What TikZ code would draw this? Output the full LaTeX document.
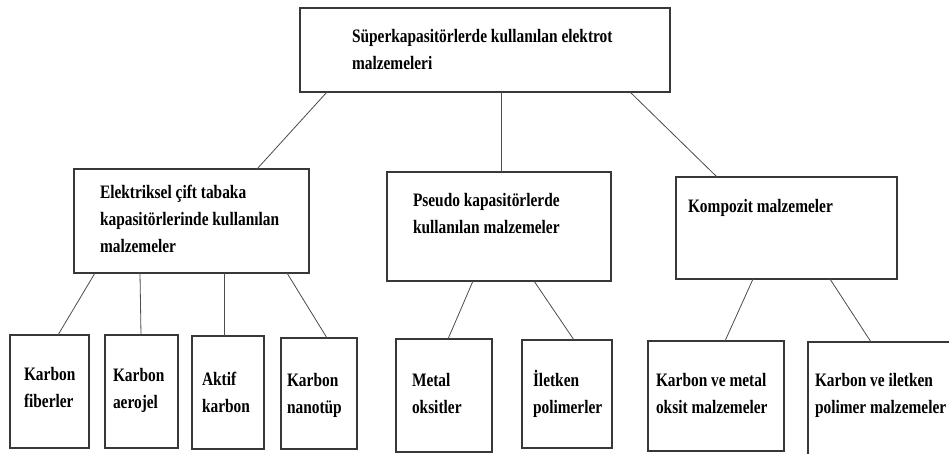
\documentclass[tikz,border=0pt]{standalone}
\usepackage{fontspec}
\setmainfont{Liberation Serif}[FakeStretch=0.81]
\begin{document}
\begin{tikzpicture}[x=1pt,y=-1pt,
  box/.style={draw=black!78, line width=1.3pt, fill=white, anchor=north west, inner sep=0pt, outer sep=0pt},
  conn/.style={draw=black!70, line width=0.8pt},
  txt/.style={anchor=base west, inner sep=0pt, outer sep=0pt, font=\fontsize{19}{27}\selectfont\bfseries}
]
\clip (0,0) rectangle (949,453);
\fill[white] (0,0) rectangle (949,453);

% boxes
\node[box, minimum width=370pt, minimum height=84pt]  (top)   at (300,8)   {};
\node[box, minimum width=235pt, minimum height=104pt] (elek)  at (74,169)  {};
\node[box, minimum width=224pt, minimum height=109pt] (pseu)  at (387,172) {};
\node[box, minimum width=221pt, minimum height=102pt] (komp)  at (676,177) {};
\node[box, minimum width=79pt,  minimum height=113pt] (fib)   at (10,335)  {};
\node[box, minimum width=73pt,  minimum height=113pt] (aero)  at (105,335) {};
\node[box, minimum width=72pt,  minimum height=113pt] (aktif) at (192,336) {};
\node[box, minimum width=76pt,  minimum height=111pt] (nano)  at (281,338) {};
\node[box, minimum width=96pt,  minimum height=113pt] (metal) at (396,339) {};
\node[box, minimum width=90pt,  minimum height=108pt] (ilet)  at (522,340) {};
\node[box, minimum width=136pt, minimum height=110pt] (kvm)   at (648,341) {};
\node[box, minimum width=162pt, minimum height=138pt] (kvi)   at (808,342) {};

% texts
\node[txt] (ttop) at (352,42.5) {\begin{tabular}[t]{@{}l@{}}Süperkapasitörlerde kullanılan elektrot\\malzemeleri\end{tabular}};
\node[txt] (telek) at (100,198) {\begin{tabular}[t]{@{}l@{}}Elektriksel çift tabaka\\kapasitörlerinde kullanılan\\malzemeler\end{tabular}};
\node[txt] (tpseu) at (413,206.5) {\begin{tabular}[t]{@{}l@{}}Pseudo kapasitörlerde\\kullanılan malzemeler\end{tabular}};
\node[txt] (tkomp) at (688,212.5) {Kompozit malzemeler};
\node[txt] (tfib) at (24,380.5) {\begin{tabular}[t]{@{}l@{}}Karbon\\fiberler\end{tabular}};
\node[txt] (taero) at (113,381.5) {\begin{tabular}[t]{@{}l@{}}Karbon\\aerojel\end{tabular}};
\node[txt] (taktif) at (202,385) {\begin{tabular}[t]{@{}l@{}}Aktif\\karbon\end{tabular}};
\node[txt] (tnano) at (287,386) {\begin{tabular}[t]{@{}l@{}}Karbon\\nanotüp\end{tabular}};
\node[txt] (tmetal) at (412,386) {\begin{tabular}[t]{@{}l@{}}Metal\\oksitler\end{tabular}};
\node[txt] (tilet) at (533,386.5) {\begin{tabular}[t]{@{}l@{}}İletken\\polimerler\end{tabular}};
\node[txt] (tkvm) at (656,386.5) {\begin{tabular}[t]{@{}l@{}}Karbon ve metal\\oksit malzemeler\end{tabular}};
\node[txt] (tkvi) at (815,386.5) {\begin{tabular}[t]{@{}l@{}}Karbon ve iletken\\polimer malzemeler\end{tabular}};

% connectors
\draw[conn] ([xshift=27pt]top.south west)  -- ([xshift=183pt]elek.north west);
\draw[conn] ([xshift=201pt]top.south west) -- ([xshift=114pt]pseu.north west);
\draw[conn] ([xshift=330pt]top.south west) -- ([xshift=41pt]komp.north west);
\draw[conn] ([xshift=21pt]elek.south west)  -- ([xshift=48pt]fib.north west);
\draw[conn] ([xshift=66pt]elek.south west)  -- ([xshift=36pt]aero.north west);
\draw[conn] ([xshift=150pt]elek.south west) -- ([xshift=32pt]aktif.north west);
\draw[conn] ([xshift=213pt]elek.south west) -- ([xshift=46pt]nano.north west);
\draw[conn] ([xshift=86pt]pseu.south west)  -- ([xshift=52pt]metal.north west);
\draw[conn] ([xshift=147pt]pseu.south west) -- ([xshift=52pt]ilet.north west);
\draw[conn] ([xshift=77pt]komp.south west)  -- ([xshift=77pt]kvm.north west);
\draw[conn] ([xshift=154pt]komp.south west) -- ([xshift=63pt]kvi.north west);
\end{tikzpicture}
\end{document}
